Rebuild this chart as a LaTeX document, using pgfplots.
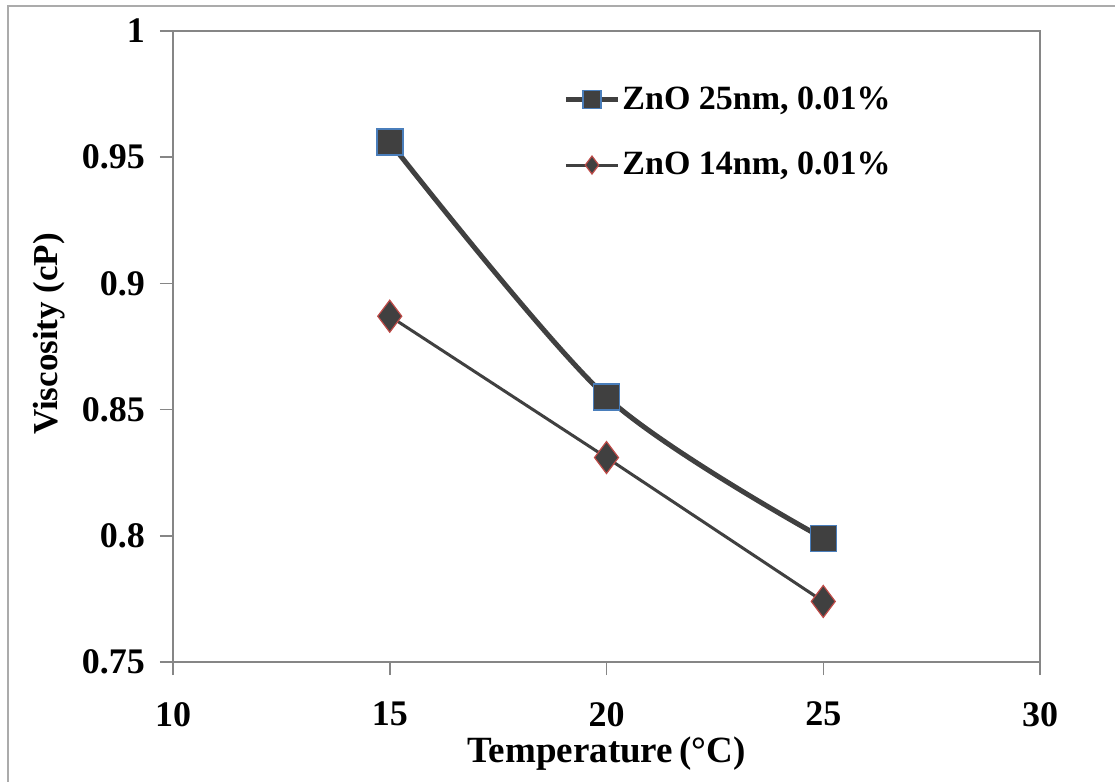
\documentclass[border=0pt]{standalone}
\usepackage{pgfplots}
\pgfplotsset{compat=1.18}
\usepackage{fontspec}
\setmainfont{Liberation Serif}

\definecolor{serdark}{HTML}{404040}
\definecolor{sqedge}{HTML}{4A7EBB}
\definecolor{dmedge}{HTML}{BE4B48}
\definecolor{axgray}{HTML}{868686}
\definecolor{framegray}{HTML}{ABABAB}

\begin{document}
\begin{tikzpicture}
\useasboundingbox (0,0) rectangle (557.5pt,391pt);
% outer chart frame
\draw[framegray, line width=1pt] (4pt,0pt) -- (4pt,388pt) -- (557.5pt,388pt);
\begin{axis}[
  at={(86.5pt,60pt)}, anchor=south west,
  scale only axis, width=433.5pt, height=315.5pt,
  xmin=10, xmax=30, ymin=0.75, ymax=1,
  xtick={10,15,20,25,30},
  ytick={0.75,0.8,0.85,0.9,0.95,1},
  yticklabels={0.75,0.8,0.85,0.9,0.95,1},
  axis line style={axgray, line width=0.75pt},
  tick style={axgray, line width=0.75pt},
  tick align=outside, major tick length=6.5pt,
  xtick pos=bottom, ytick pos=left,
  /pgf/number format/assume math mode=true,
  ticklabel style={font=\fontsize{18}{21}\selectfont\bfseries},
  xticklabel style={anchor=north, yshift=-10pt},
  yticklabel style={anchor=east, xshift=-4pt},
  xlabel={Temperature\,(\textdegree C)},
  ylabel={Viscosity (cP)},
  xlabel style={font=\fontsize{18.5}{22}\selectfont\bfseries,
    at={(axis description cs:0.5,0)}, anchor=center, yshift=-46pt},
  ylabel style={font=\fontsize{17.5}{21}\selectfont\bfseries,
    at={(axis description cs:-0.143,0.52)}, anchor=center},
  legend style={draw=none, fill=none, at={(0.443,0.922)}, anchor=north west,
    font=\fontsize{17}{20}\selectfont\bfseries, row sep=18pt,
    nodes={inner sep=1pt}},
  legend cell align=left,
  legend image code/.code={
    \draw[mark repeat=2, mark phase=2, #1, mark size=4.5pt]
      plot coordinates {(0pt,0pt) (13pt,0pt) (26pt,0pt)};},
]
\addplot[serdark, line width=2.5pt, smooth, tension=0.5,
  mark=square*, mark size=6.5pt,
  mark options={fill=serdark, draw=sqedge, line width=0.75pt}]
  coordinates {(15,0.956) (20,0.855) (25,0.799)};
\addlegendentry{ZnO 25nm, 0.01\%}
\addplot[serdark, line width=1.5pt,
  mark=diamond*, mark size=8pt,
  mark options={fill=serdark, draw=dmedge, line width=0.6pt}]
  coordinates {(15,0.887) (20,0.831) (25,0.774)};
\addlegendentry{ZnO 14nm, 0.01\%}
\end{axis}
\end{tikzpicture}
\end{document}
